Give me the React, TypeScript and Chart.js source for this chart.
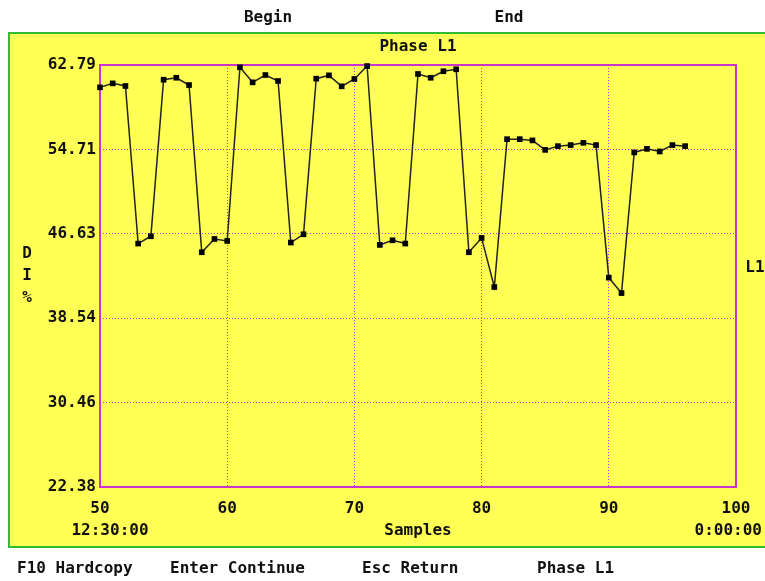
import React, { useEffect, useRef } from "react";
import { Chart, registerables } from "chart.js";

Chart.register(...registerables);

// Sample numbers and the distortion reading for each one
const samples = [
  50, 51, 52, 53, 54, 55, 56, 57, 58, 59,
  60, 61, 62, 63, 64, 65, 66, 67, 68, 69,
  70, 71, 72, 73, 74, 75, 76, 77, 78, 79,
  80, 81, 82, 83, 84, 85, 86, 87, 88, 89,
  90, 91, 92, 93, 94, 95, 96,
];
const distortion = [
  60.65, 61.03, 60.78, 45.69, 46.39, 61.38, 61.57, 60.87, 44.86, 46.13,
  45.94, 62.57, 61.13, 61.83, 61.26, 45.79, 46.58, 61.48, 61.8, 60.75,
  61.45, 62.69, 45.56, 46.0, 45.69, 61.93, 61.57, 62.19, 62.38, 44.86,
  46.23, 41.53, 55.69, 55.69, 55.57, 54.66, 55.02, 55.12, 55.34, 55.12,
  42.43, 40.95, 54.42, 54.76, 54.51, 55.12, 55.02,
];

const yTicks = [22.38, 30.46, 38.54, 46.63, 54.71, 62.79];
const xTicks = [50, 60, 70, 80, 90, 100];

const title = "Phase L1";
const axisLetters = ["D", "I", "%"];
const seriesName = "L1";
const topLabels = [
  { text: "Begin", x: 268 },
  { text: "End", x: 509 },
];
const footerItems = [
  { text: "F10 Hardcopy", x: 17 },
  { text: "Enter Continue", x: 170 },
  { text: "Esc Return", x: 362 },
  { text: "Phase L1", x: 537 },
];
const startTime = "12:30:00";
const endTime = "0:00:00";
const xTitle = "Samples";

const FONT_FAMILY = "'DejaVu Sans Mono', monospace";
const YELLOW = "#ffff55";
const MAGENTA = "#cc33cc";
const GREEN = "#33bb33";
const INK = "#111111";

const screenPlugin = {
  id: "screen",
  beforeDraw(chart: any) {
    const { ctx, width, height } = chart;
    ctx.save();
    ctx.fillStyle = "#ffffff";
    ctx.fillRect(0, 0, width, height);
    // yellow panel with green frame
    ctx.fillStyle = YELLOW;
    ctx.fillRect(8, 32, width, 516);
    ctx.strokeStyle = GREEN;
    ctx.lineWidth = 2;
    ctx.beginPath();
    ctx.moveTo(width + 2, 33);
    ctx.lineTo(9, 33);
    ctx.lineTo(9, 547);
    ctx.lineTo(width + 2, 547);
    ctx.stroke();
    ctx.restore();
  },
  beforeDatasetsDraw(chart: any) {
    const { ctx, chartArea } = chart;
    ctx.save();
    ctx.strokeStyle = MAGENTA;
    ctx.lineWidth = 2;
    ctx.strokeRect(chartArea.left, chartArea.top, chartArea.right - chartArea.left, chartArea.bottom - chartArea.top);
    ctx.restore();
  },
  afterDraw(chart: any) {
    const { ctx, chartArea } = chart;
    const cx = (chartArea.left + chartArea.right) / 2;
    ctx.save();
    ctx.fillStyle = INK;
    ctx.font = `bold 16px ${FONT_FAMILY}`;
    ctx.textBaseline = "middle";

    ctx.textAlign = "center";
    topLabels.forEach((l) => ctx.fillText(l.text, l.x, 18));
    ctx.fillText(title, cx, 47);
    axisLetters.forEach((c, i) => ctx.fillText(c, 27, 254 + i * 22));
    ctx.fillText(seriesName, 755, 268);
    ctx.fillText(startTime, 110, 531);
    ctx.fillText(xTitle, cx, 531);
    ctx.textAlign = "right";
    ctx.fillText(endTime, 762, 531);

    ctx.textAlign = "left";
    footerItems.forEach((f) => ctx.fillText(f.text, f.x, 569));
    ctx.restore();
  },
};

export default function App() {
  const canvasRef = useRef<HTMLCanvasElement | null>(null);

  useEffect(() => {
    if (!canvasRef.current) return;
    const points = samples.map((s, i) => ({ x: s, y: distortion[i] }));
    const chart = new Chart(canvasRef.current, {
      type: "line",
      data: {
        datasets: [
          {
            label: seriesName,
            data: points,
            borderColor: "#222222",
            borderWidth: 1.5,
            pointStyle: "rect",
            pointRadius: 4,
            pointBackgroundColor: "#000000",
            pointBorderColor: "#000000",
            pointBorderWidth: 0,
            tension: 0,
            clip: false,
          },
        ],
      },
      options: {
        responsive: false,
        animation: false,
        devicePixelRatio: 1,
        layout: { padding: { left: 0, top: 65, right: 29, bottom: 64 } },
        plugins: {
          legend: { display: false },
          tooltip: { enabled: false },
          title: { display: false },
        },
        scales: {
          x: {
            type: "linear",
            min: xTicks[0],
            max: xTicks[xTicks.length - 1],
            afterBuildTicks: (scale: any) => {
              scale.ticks = xTicks.map((v) => ({ value: v }));
            },
            afterFit: (scale: any) => {
              scale.height = 30;
            },
            grid: { color: MAGENTA, lineWidth: 1, drawTicks: false },
            border: { display: false, dash: [1, 2] },
            ticks: {
              color: INK,
              font: { family: FONT_FAMILY, size: 16, weight: "bold" },
              padding: 12,
              maxRotation: 0,
              autoSkip: false,
            },
          },
          y: {
            type: "linear",
            min: yTicks[0],
            max: yTicks[yTicks.length - 1],
            afterBuildTicks: (scale: any) => {
              scale.ticks = yTicks.map((v) => ({ value: v }));
            },
            afterFit: (scale: any) => {
              scale.width = 100;
            },
            grid: { color: MAGENTA, lineWidth: 1, drawTicks: false },
            border: { display: false, dash: [1, 2] },
            ticks: {
              color: INK,
              font: { family: FONT_FAMILY, size: 16, weight: "bold" },
              padding: 4,
              autoSkip: false,
              callback: (v: any) => Number(v).toFixed(2),
            },
          },
        },
      },
      plugins: [screenPlugin],
    });
    return () => chart.destroy();
  }, []);

  return (
    <div style={{ position: "fixed", left: 0, top: 0, width: 765, height: 581 }}>
      <canvas ref={canvasRef} width={765} height={581} />
    </div>
  );
}
